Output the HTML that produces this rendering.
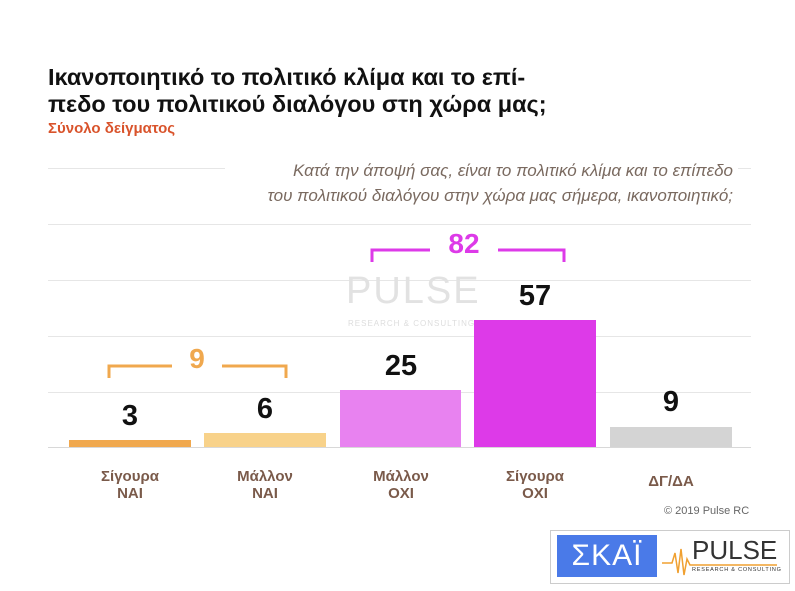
<!DOCTYPE html>
<html><head><meta charset="utf-8"><style>
body{margin:0;width:795px;height:591px;background:#fff;position:relative;font-family:"Liberation Sans",sans-serif;overflow:hidden}
.a{position:absolute}
.g{position:absolute;left:48px;width:703px;height:1px;background:#e6e6e6}
.bar{position:absolute}
.v{position:absolute;width:122px;text-align:center;font-weight:bold;font-size:29px;color:#111}
.l{position:absolute;width:122px;text-align:center;font-weight:bold;font-size:15px;color:#7a5a4a;line-height:17px}
</style></head><body>
<div class="a" style="left:48px;top:64px;font-size:23.5px;font-weight:bold;color:#111;line-height:27px">Ικανοποιητικό το πολιτικό κλίμα και το επί-<br>πεδο του πολιτικού διαλόγου στη χώρα μας;</div>
<div class="a" style="left:48px;top:120px;font-size:15px;font-weight:bold;color:#d9532b">Σύνολο δείγματος</div>
<div class="a" style="left:150px;top:158px;width:583px;text-align:right;font-size:17px;font-style:italic;color:#7a6a60;line-height:25px">Κατά την άποψή σας, είναι το πολιτικό κλίμα και το επίπεδο<br>του πολιτικού διαλόγου στην χώρα μας σήμερα, ικανοποιητικό;</div>
<div class="g" style="top:168px;width:177px"></div>
<div class="g" style="top:168px;left:738px;width:13px"></div>
<div class="g" style="top:224px"></div>
<div class="g" style="top:280px"></div>
<div class="g" style="top:336px"></div>
<div class="g" style="top:392px"></div>
<div class="g" style="top:447px;background:#d8d8d8"></div>
<div class="a" style="left:346px;top:270px;font-size:38px;color:#e2e2e2;letter-spacing:2px">PULSE</div>
<div class="a" style="left:348px;top:319px;font-size:8px;color:#ddd;letter-spacing:1px">RESEARCH &amp; CONSULTING</div>
<div class="bar" style="left:69px;top:440px;width:122px;height:7px;background:#f0a84e"></div>
<div class="bar" style="left:204px;top:433px;width:122px;height:14px;background:#f8d28a"></div>
<div class="bar" style="left:340px;top:390px;width:121px;height:57px;background:#e882f0"></div>
<div class="bar" style="left:474px;top:320px;width:122px;height:127px;background:#dd3ae8"></div>
<div class="bar" style="left:610px;top:427px;width:122px;height:20px;background:#d4d4d4"></div>
<div class="v" style="left:69px;top:400px">3</div>
<div class="v" style="left:204px;top:393px">6</div>
<div class="v" style="left:340px;top:350px">25</div>
<div class="v" style="left:474px;top:280px">57</div>
<div class="v" style="left:610px;top:386px">9</div>
<svg class="a" style="left:0;top:0" width="795" height="591">
<path d="M109 378 V366 H172 M222 366 H286 V378" stroke="#f0a84e" stroke-width="3" fill="none"/>
<path d="M372 262 V250 H430 M498 250 H564 V262" stroke="#dd3ae8" stroke-width="3" fill="none"/>
</svg>
<div class="a" style="left:172px;top:343px;width:50px;text-align:center;font-size:28px;font-weight:bold;color:#f0a84e">9</div>
<div class="a" style="left:430px;top:228px;width:68px;text-align:center;font-size:28px;font-weight:bold;color:#dd3ae8">82</div>
<div class="l" style="left:69px;top:468px">Σίγουρα<br>ΝΑΙ</div>
<div class="l" style="left:204px;top:468px">Μάλλον<br>ΝΑΙ</div>
<div class="l" style="left:340px;top:468px">Μάλλον<br>ΟΧΙ</div>
<div class="l" style="left:474px;top:468px">Σίγουρα<br>ΟΧΙ</div>
<div class="l" style="left:610px;top:473px">ΔΓ/ΔΑ</div>
<div class="a" style="left:664px;top:505px;font-size:11px;color:#666">© 2019 Pulse RC</div>
<div class="a" style="left:550px;top:530px;width:238px;height:52px;border:1px solid #ccc;background:#fff"></div>
<div class="a" style="left:557px;top:535px;width:100px;height:42px;background:#4a7ae8;color:#fff;font-size:30px;text-align:center;line-height:42px;letter-spacing:1px">ΣΚΑΪ</div>
<div class="a" style="left:692px;top:537px;font-size:26px;color:#333;line-height:26px">PULSE</div>
<div class="a" style="left:692px;top:567px;font-size:5.5px;color:#333;letter-spacing:0.8px">RESEARCH &amp; CONSULTING</div>
<svg class="a" style="left:662px;top:545px" width="120" height="35"><path d="M0 18 H10 L13 8 L16 28 L19 4 L22 30 L25 14 L28 20 H115" stroke="#f0a030" stroke-width="1.5" fill="none"/></svg>
</body></html>
